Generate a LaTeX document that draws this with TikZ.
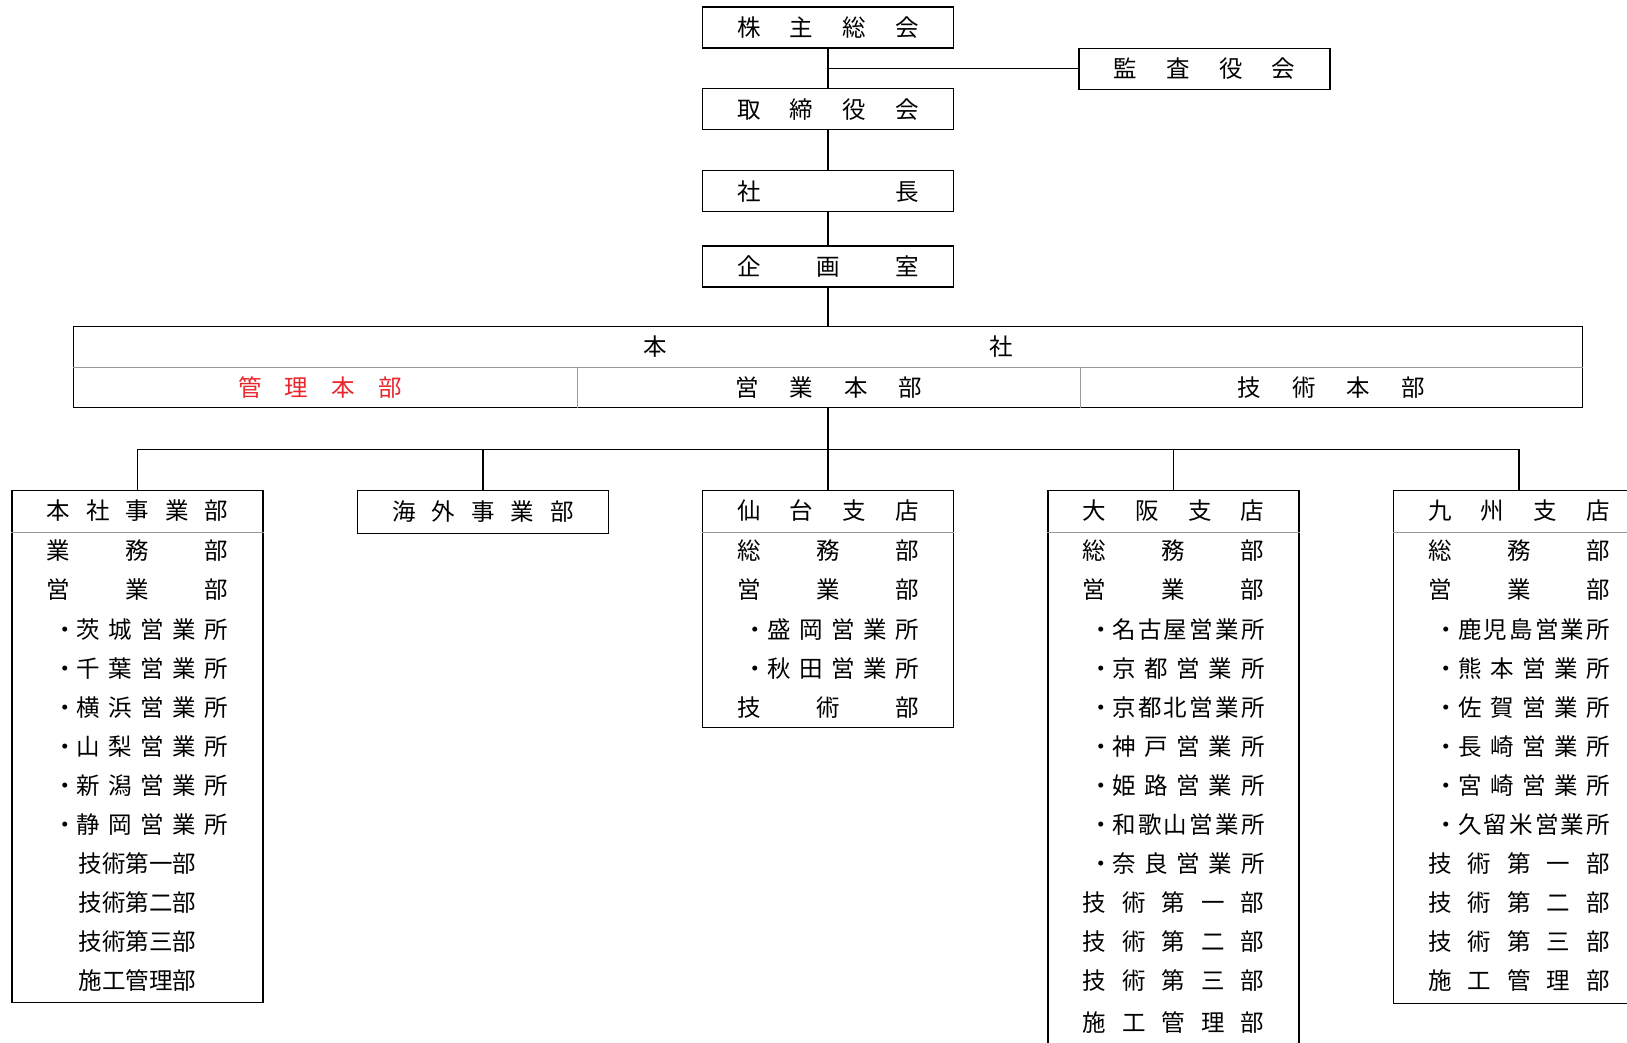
\documentclass[tikz,border=0pt]{standalone}
\usepackage{fontspec}
\setmainfont{Noto Sans CJK JP}
\usepackage{tikz}
\usetikzlibrary{positioning}
\definecolor{kanrired}{HTML}{E8262D}
\newcommand\spread[2][182pt]{\makebox[#1][s]{\spaceskip=0pt plus 1fil\relax#2}}
\newcommand\shoitem[1]{\makebox[182pt][r]{・\spread[152pt]{#1}}}

\begin{document}
\begin{tikzpicture}[x=1pt,y=-1pt,
  font=\fontsize{23.5pt}{28pt}\selectfont,
  unit/.style={draw,line width=1.3pt,minimum width=251pt,minimum height=41pt,inner sep=0pt},
  txt/.style={inner sep=0pt},
  divider/.style={line width=0.8pt,black!40},
  link/.style={line width=1.2pt}]
  \useasboundingbox (0,0) rectangle (1627,1043);
  \fill[white] (0,0) rectangle (1627,1043);

  % top of the chart
  \node[unit] (gm) at (828,27.5) {\spread{株 主 総 会}};
  \node[unit,below=39.4pt of gm] (board) {\spread{取 締 役 会}};
  \node[unit,below=39.7pt of board] (pres) {\spread{社 長}};
  \node[unit,below=33pt of pres] (plan) {\spread{企 画 室}};
  \node[unit] (audit) at (1204.5,68.8) {\spread{監 査 役 会}};

  % head office
  \node[unit,minimum width=1508.6pt,minimum height=81pt] (hq) at (828,367.3) {};
  \node[txt] (hq-t) at (828,347) {\spread[369pt]{本 社}};
  \node[txt,text=kanrired] (kanri) at (320,388) {\spread[164pt]{管 理 本 部}};
  \node[txt] (eigyo) at (828.5,388) {\spread[187pt]{営 業 本 部}};
  \node[txt] (gijutsu) at (1331,388) {\spread[187pt]{技 術 本 部}};
  \draw[divider] (hq.west) -- (hq.east);
  \draw[divider] (577,367.3) -- (577,407.8);
  \draw[divider] (1080,367.3) -- (1080,407.8);

  % divisions and branches
  \node[unit,anchor=north,minimum height=512.5pt] (hqdiv) at (137.5,489.5) {};
  \node[unit,anchor=north,minimum height=43pt] (intl) at (483,489.5) {\spread{海 外 事 業 部}};
  \node[unit,anchor=north,minimum height=237pt] (sendai) at (828,489.5) {};
  \node[unit,anchor=north,minimum height=600pt] (osaka) at (1173.5,489.5) {};
  \node[unit,anchor=north,minimum height=513pt] (kyushu) at (1519,489.5) {};

  \node[txt] (hqdiv-t) at (137.5,510.5) {\spread{本 社 事 業 部}};
  \node[txt] (sendai-t) at (828,510.5) {\spread{仙 台 支 店}};
  \node[txt] (osaka-t) at (1173.5,510.5) {\spread{大 阪 支 店}};
  \node[txt] (kyushu-t) at (1519,510.5) {\spread{九 州 支 店}};
  \foreach \b in {hqdiv,sendai,osaka,kyushu}
    \draw[divider] (\b.west |- 0,532) -- (\b.east |- 0,532);

  \foreach \t [count=\i] in {{\spread{業 務 部}},{\spread{営 業 部}},
      {\shoitem{茨 城 営 業 所}},{\shoitem{千 葉 営 業 所}},{\shoitem{横 浜 営 業 所}},
      {\shoitem{山 梨 営 業 所}},{\shoitem{新 潟 営 業 所}},{\shoitem{静 岡 営 業 所}},
      技術第一部,技術第二部,技術第三部,施工管理部}
    \node[txt] (hqdiv-\i) at (137.5,{551+(\i-1)*39.05}) {\t};

  \foreach \t [count=\i] in {{\spread{総 務 部}},{\spread{営 業 部}},
      {\shoitem{盛 岡 営 業 所}},{\shoitem{秋 田 営 業 所}},{\spread{技 術 部}}}
    \node[txt] (sendai-\i) at (828,{551+(\i-1)*39.05}) {\t};

  \foreach \t [count=\i] in {{\spread{総 務 部}},{\spread{営 業 部}},
      {\shoitem{名 古 屋 営 業 所}},{\shoitem{京 都 営 業 所}},{\shoitem{京 都 北 営 業 所}},
      {\shoitem{神 戸 営 業 所}},{\shoitem{姫 路 営 業 所}},{\shoitem{和 歌 山 営 業 所}},
      {\shoitem{奈 良 営 業 所}},{\spread{技 術 第 一 部}},{\spread{技 術 第 二 部}},
      {\spread{技 術 第 三 部}}}
    \node[txt] (osaka-\i) at (1173.5,{551+(\i-1)*39.05}) {\t};
  \node[txt] (osaka-13) at (1173.5,1023) {\spread{施 工 管 理 部}};

  \foreach \t [count=\i] in {{\spread{総 務 部}},{\spread{営 業 部}},
      {\shoitem{鹿 児 島 営 業 所}},{\shoitem{熊 本 営 業 所}},{\shoitem{佐 賀 営 業 所}},
      {\shoitem{長 崎 営 業 所}},{\shoitem{宮 崎 営 業 所}},{\shoitem{久 留 米 営 業 所}},
      {\spread{技 術 第 一 部}},{\spread{技 術 第 二 部}},{\spread{技 術 第 三 部}},
      {\spread{施 工 管 理 部}}}
    \node[txt] (kyushu-\i) at (1519,{551+(\i-1)*39.05}) {\t};

  % connectors
  \coordinate (bus) at (828,449.3);
  \draw[link] (gm) -- (board);
  \draw[link] (gm |- audit) -- (audit);
  \draw[link] (board) -- (pres);
  \draw[link] (pres) -- (plan);
  \draw[link] (plan) -- (hq);
  \draw[link] (hq) -- (bus);
  \draw[link] (hqdiv.north |- bus) -- (kyushu.north |- bus);
  \foreach \b in {hqdiv,intl,sendai,osaka,kyushu}
    \draw[link] (\b.north |- bus) -- (\b.north);
\end{tikzpicture}
\end{document}
